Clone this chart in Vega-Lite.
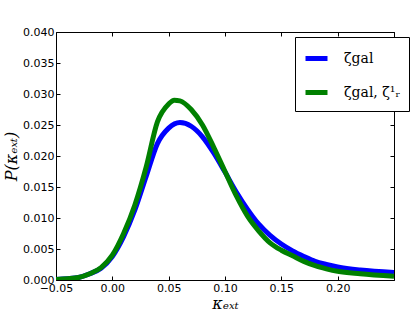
{
  "$schema": "https://vega.github.io/schema/vega-lite/v6.json",
  "width": 338,
  "height": 248,
  "autosize": {"type": "none"},
  "padding": {"left": 56, "top": 32, "right": 21, "bottom": 32},
  "config": {
    "view": {"stroke": "#000000", "strokeWidth": 1},
    "font": "DejaVu Sans",
    "axis": {"labelFont": "DejaVu Sans", "labelFontSize": 11, "labelColor": "#000000", "labelFlush": false, "labelOverlap": false, "domain": false, "grid": false, "tickColor": "#000000", "tickSize": -4, "labelPadding": 6, "titleFont": "DejaVu Serif", "titleFontWeight": "normal", "titleFontStyle": "italic", "titleColor": "#000000", "titleFontSize": 16}
  },
  "data": {"values": [
    {"k": -0.05, "p": 0.0001, "s": "ζgal"},
    {"k": -0.04, "p": 0.0002, "s": "ζgal"},
    {"k": -0.03, "p": 0.0004, "s": "ζgal"},
    {"k": -0.02, "p": 0.001, "s": "ζgal"},
    {"k": -0.01, "p": 0.0019, "s": "ζgal"},
    {"k": 0.0, "p": 0.0038, "s": "ζgal"},
    {"k": 0.01, "p": 0.007, "s": "ζgal"},
    {"k": 0.02, "p": 0.0113, "s": "ζgal"},
    {"k": 0.03, "p": 0.0167, "s": "ζgal"},
    {"k": 0.04, "p": 0.0220, "s": "ζgal"},
    {"k": 0.05, "p": 0.0245, "s": "ζgal"},
    {"k": 0.06, "p": 0.0254, "s": "ζgal"},
    {"k": 0.07, "p": 0.0248, "s": "ζgal"},
    {"k": 0.08, "p": 0.0231, "s": "ζgal"},
    {"k": 0.09, "p": 0.0205, "s": "ζgal"},
    {"k": 0.10, "p": 0.0174, "s": "ζgal"},
    {"k": 0.11, "p": 0.0142, "s": "ζgal"},
    {"k": 0.12, "p": 0.0114, "s": "ζgal"},
    {"k": 0.13, "p": 0.0090, "s": "ζgal"},
    {"k": 0.14, "p": 0.0072, "s": "ζgal"},
    {"k": 0.15, "p": 0.0058, "s": "ζgal"},
    {"k": 0.16, "p": 0.0047, "s": "ζgal"},
    {"k": 0.17, "p": 0.0038, "s": "ζgal"},
    {"k": 0.18, "p": 0.003, "s": "ζgal"},
    {"k": 0.19, "p": 0.0025, "s": "ζgal"},
    {"k": 0.20, "p": 0.0021, "s": "ζgal"},
    {"k": 0.22, "p": 0.0016, "s": "ζgal"},
    {"k": 0.25, "p": 0.0012, "s": "ζgal"},
    {"k": -0.05, "p": 0.0001, "s": "ζgal, ζ¹ᵣ"},
    {"k": -0.04, "p": 0.0002, "s": "ζgal, ζ¹ᵣ"},
    {"k": -0.03, "p": 0.0004, "s": "ζgal, ζ¹ᵣ"},
    {"k": -0.02, "p": 0.001, "s": "ζgal, ζ¹ᵣ"},
    {"k": -0.01, "p": 0.002, "s": "ζgal, ζ¹ᵣ"},
    {"k": 0.0, "p": 0.004, "s": "ζgal, ζ¹ᵣ"},
    {"k": 0.01, "p": 0.0075, "s": "ζgal, ζ¹ᵣ"},
    {"k": 0.02, "p": 0.0121, "s": "ζgal, ζ¹ᵣ"},
    {"k": 0.03, "p": 0.0182, "s": "ζgal, ζ¹ᵣ"},
    {"k": 0.04, "p": 0.0255, "s": "ζgal, ζ¹ᵣ"},
    {"k": 0.05, "p": 0.0284, "s": "ζgal, ζ¹ᵣ"},
    {"k": 0.055, "p": 0.029, "s": "ζgal, ζ¹ᵣ"},
    {"k": 0.06, "p": 0.0289, "s": "ζgal, ζ¹ᵣ"},
    {"k": 0.07, "p": 0.0275, "s": "ζgal, ζ¹ᵣ"},
    {"k": 0.08, "p": 0.0250, "s": "ζgal, ζ¹ᵣ"},
    {"k": 0.09, "p": 0.0214, "s": "ζgal, ζ¹ᵣ"},
    {"k": 0.10, "p": 0.0175, "s": "ζgal, ζ¹ᵣ"},
    {"k": 0.11, "p": 0.0136, "s": "ζgal, ζ¹ᵣ"},
    {"k": 0.12, "p": 0.0103, "s": "ζgal, ζ¹ᵣ"},
    {"k": 0.13, "p": 0.0079, "s": "ζgal, ζ¹ᵣ"},
    {"k": 0.14, "p": 0.0060, "s": "ζgal, ζ¹ᵣ"},
    {"k": 0.15, "p": 0.0048, "s": "ζgal, ζ¹ᵣ"},
    {"k": 0.16, "p": 0.0039, "s": "ζgal, ζ¹ᵣ"},
    {"k": 0.17, "p": 0.0030, "s": "ζgal, ζ¹ᵣ"},
    {"k": 0.18, "p": 0.0023, "s": "ζgal, ζ¹ᵣ"},
    {"k": 0.19, "p": 0.0018, "s": "ζgal, ζ¹ᵣ"},
    {"k": 0.20, "p": 0.0014, "s": "ζgal, ζ¹ᵣ"},
    {"k": 0.22, "p": 0.0010, "s": "ζgal, ζ¹ᵣ"},
    {"k": 0.25, "p": 0.0006, "s": "ζgal, ζ¹ᵣ"}
  ]},
  "layer": [
    {
      "mark": {"type": "line", "strokeWidth": 5, "clip": true, "interpolate": "monotone"},
      "encoding": {
        "x": {"field": "k", "type": "quantitative", "scale": {"domain": [-0.05, 0.25], "nice": false, "zero": false},
              "axis": {"title": "κₑₓₜ", "values": [-0.05, 0, 0.05, 0.1, 0.15, 0.2, 0.25], "labelExpr": "datum.value > 0.22 ? '' : format(datum.value, '.2f')", "titlePadding": 2}},
        "y": {"field": "p", "type": "quantitative", "scale": {"domain": [0, 0.04], "nice": false},
              "axis": {"title": "P(κₑₓₜ)", "values": [0, 0.005, 0.01, 0.015, 0.02, 0.025, 0.03, 0.035, 0.04], "format": ".3f", "titlePadding": 3}},
        "color": {"field": "s", "type": "nominal", "scale": {"domain": ["ζgal", "ζgal, ζ¹ᵣ"], "range": ["#0000ff", "#008000"]},
                  "legend": {"title": null, "orient": "none", "legendX": 239, "legendY": 5, "symbolType": "stroke", "symbolStrokeWidth": 5, "symbolSize": 484, "labelFontSize": 14, "labelFont": "DejaVu Serif", "labelColor": "#000000", "strokeColor": "#000000", "fillColor": "#ffffff", "padding": 8, "rowPadding": 10, "labelOffset": 14, "cornerRadius": 0}}
      }
    },
    {
      "mark": {"type": "line", "opacity": 0},
      "encoding": {
        "x": {"field": "k", "type": "quantitative", "scale": {"domain": [-0.05, 0.25], "nice": false, "zero": false}, "axis": {"orient": "top", "labels": false, "title": null, "values": [-0.05, 0, 0.05, 0.1, 0.15, 0.2, 0.25]}},
        "y": {"field": "p", "type": "quantitative", "scale": {"domain": [0, 0.04], "nice": false}, "axis": {"orient": "right", "labels": false, "title": null, "values": [0, 0.005, 0.01, 0.015, 0.02, 0.025, 0.03, 0.035, 0.04]}}
      }
    }
  ],
  "resolve": {"axis": {"x": "independent", "y": "independent"}}
}
